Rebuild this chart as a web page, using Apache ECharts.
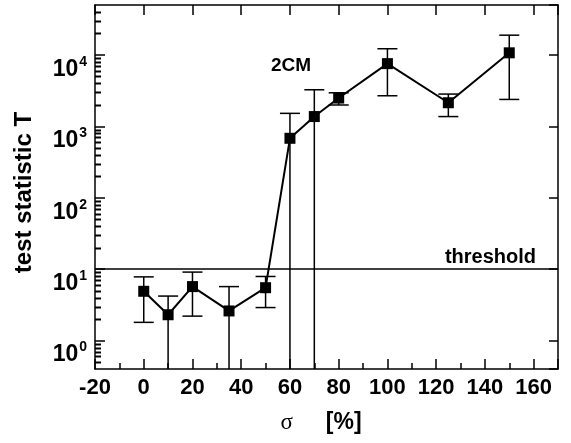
<!DOCTYPE html>
<html>
<head>
<meta charset="utf-8">
<script src="https://cdn.jsdelivr.net/npm/echarts@6/dist/echarts.min.js"></script>
<style>
  html, body { margin: 0; padding: 0; background: #fff; }
  #chart { width: 571px; height: 443px; }
</style>
</head>
<body>
<div id="chart"></div>
<script>
    // values
    var sigma = [0, 10, 20, 35, 50, 60, 70, 80, 100, 125, 150];
    var T = [4.9, 2.3, 5.7, 2.6, 5.5, 680, 1370, 2490, 7550, 2140, 10700];
    var Tlow = [1.8, 0, 2.2, 0, 2.9, 0, 0, 1990, 2680, 1370, 2380];   // 0 = bar runs off the bottom
    var Thigh = [7.8, 4.2, 9.1, 5.7, 7.9, 1520, 3250, 2950, 12200, 2830, 18900];
    var threshold = 10;
    var xTicks = [-20, 0, 20, 40, 60, 80, 100, 120, 140, 160];
    var decades = [0.1, 1, 10, 100, 1000, 10000];
    var minorMult = [2, 3, 4, 5, 6, 7, 8, 9];

    var FONT = '"Liberation Sans", Arial, Helvetica, sans-serif';
    var X_MIN = -20, X_MAX = 170;
    var Y_MIN = 0.4, Y_MAX = 50000;

    var chart = echarts.init(document.getElementById('chart'));

    var minorVals = [];
    decades.forEach(function (d) {
        minorMult.forEach(function (m) {
            var v = d * m;
            if (v > Y_MIN && v < Y_MAX) minorVals.push(v);
        });
    });

    var errData = sigma.map(function (s, i) { return [s, Tlow[i], Thigh[i]]; });

    function seg(x1, y1, x2, y2, w) {
        return { type: 'line', shape: { x1: x1, y1: y1, x2: x2, y2: y2 }, style: { stroke: '#000', lineWidth: w } };
    }

    var option = {
        animation: false,
        backgroundColor: '#fff',
        grid: { left: 95, right: 13, top: 5, bottom: 74 },
        xAxis: [{
            type: 'value',
            min: X_MIN, max: X_MAX, interval: 20,
            axisLine: { onZero: false, lineStyle: { color: '#000', width: 1.5 } },
            axisTick: { inside: true, length: 10, lineStyle: { color: '#000', width: 1.5 } },
            minorTick: { show: true, splitNumber: 2, length: 6, lineStyle: { color: '#000', width: 1.5 } },
            splitLine: { show: false },
            axisLabel: {
                margin: 8, color: '#000', fontSize: 22, fontWeight: 'bold', fontFamily: FONT,
                showMaxLabel: false,
                formatter: function (v) { return xTicks.indexOf(v) >= 0 ? String(v) : ''; }
            },
            name: '{s|σ}{g|}{b|[%]}',
            nameLocation: 'middle',
            nameGap: 42,
            nameTextStyle: {
                padding: [0, 11, 0, 0],
                rich: {
                    s: { fontSize: 23, fontFamily: '"Liberation Serif", "DejaVu Serif", serif', color: '#000' },
                    g: { width: 33 },
                    b: { fontSize: 23, fontWeight: 'bold', fontFamily: FONT, color: '#000' }
                }
            }
        }, {
            type: 'value',
            position: 'top',
            min: X_MIN, max: X_MAX, interval: 20,
            axisLine: { show: true, onZero: false, lineStyle: { color: '#000', width: 1.5 } },
            axisTick: { inside: true, length: 10, lineStyle: { color: '#000', width: 1.5 } },
            axisLabel: { show: false },
            splitLine: { show: false }
        }],
        yAxis: [{
            type: 'log',
            logBase: 10,
            min: Y_MIN, max: Y_MAX,
            axisLine: { show: true, onZero: false, lineStyle: { color: '#000', width: 1.5 } },
            axisTick: { inside: true, length: 10, lineStyle: { color: '#000', width: 1.5 } },
            splitLine: { show: false },
            name: 'test statistic T',
            nameLocation: 'middle',
            nameGap: 59,
            nameTextStyle: { fontSize: 24, fontWeight: 'bold', fontFamily: FONT, color: '#000', padding: [0, 11, 0, 0] },
            axisLabel: {
                margin: 8,
                verticalAlign: 'top',
                showMinLabel: false,
                showMaxLabel: false,
                formatter: function (v) {
                    var e = Math.round(Math.log(v) / Math.LN10);
                    if (Math.abs(Math.pow(10, e) - v) > 1e-6 * v) return '';
                    return '{b|10}{s|' + e + '}';
                },
                rich: {
                    b: { fontSize: 23, fontWeight: 'bold', fontFamily: FONT, color: '#000', padding: [3, 0, 0, 0] },
                    s: { fontSize: 14, fontWeight: 'bold', fontFamily: FONT, color: '#000', verticalAlign: 'top', padding: [0, 0, 0, 1] }
                }
            }
        }, {
            type: 'log',
            logBase: 10,
            position: 'right',
            min: Y_MIN, max: Y_MAX,
            axisLine: { show: true, onZero: false, lineStyle: { color: '#000', width: 1.5 } },
            axisTick: { inside: true, length: 9, lineStyle: { color: '#000', width: 1.5 } },
            axisLabel: { show: false },
            splitLine: { show: false }
        }],
        series: [{
            // error bars
            type: 'custom',
            data: errData,
            renderItem: function (params, api) {
                var cs = params.coordSys;
                var x = api.value(0);
                var lo = api.value(1), hi = api.value(2);
                var top = api.coord([x, hi]);
                var bottom = lo > 0 ? api.coord([x, lo])[1] : cs.y + cs.height;
                var half = 10;
                var children = [
                    seg(top[0], top[1], top[0], bottom, 1.5),
                    seg(top[0] - half, top[1], top[0] + half, top[1], 1.5)
                ];
                if (lo > 0) children.push(seg(top[0] - half, bottom, top[0] + half, bottom, 1.5));
                return { type: 'group', children: children };
            },
            z: 2
        }, {
            name: 'T',
            type: 'line',
            data: sigma.map(function (s, i) { return [s, T[i]]; }),
            symbol: 'rect',
            symbolSize: 11,
            lineStyle: { color: '#000', width: 2 },
            itemStyle: { color: '#000' },
            z: 3,
            markLine: {
                silent: true,
                symbol: 'none',
                lineStyle: { color: '#000', width: 1.5, type: 'solid' },
                label: {
                    position: 'insideEndTop',
                    formatter: 'threshold',
                    fontSize: 20, fontWeight: 'bold', fontFamily: FONT, color: '#000',
                    distance: [22, 2]
                },
                data: [{ yAxis: threshold }]
            }
        }]
    };
    chart.setOption(option);

    // annotation + log-spaced minor ticks on the left axis, placed through the axis scale
    var gx = chart.convertToPixel({ xAxisIndex: 0 }, X_MIN);
    var graphics = [{
        type: 'text',
        left: 271, top: 56,
        style: { text: '2CM', fontSize: 19, fontWeight: 'bold', fontFamily: FONT, fill: '#000' }
    }];
    minorVals.forEach(function (v) {
        var py = Math.round(chart.convertToPixel({ yAxisIndex: 0 }, v)) + 0.5;
        graphics.push({
            type: 'line',
            shape: { x1: gx, y1: py, x2: gx + 6, y2: py },
            style: { stroke: '#000', lineWidth: 2 },
            silent: true,
            z: 10
        });
    });
    chart.setOption({ graphic: graphics });
</script>
</body>
</html>
